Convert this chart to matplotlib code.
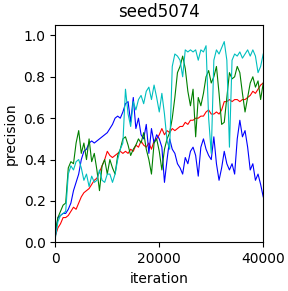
import numpy as np
import matplotlib
matplotlib.use("Agg")
import matplotlib.pyplot as plt

# 迭代步数（每 500 次一个点）
iterations = np.arange(0, 40001, 500)

# 四条 precision 曲线
prec_red = [0.03, 0.07, 0.09, 0.12, 0.12, 0.13, 0.15, 0.17, 0.16, 0.19,
            0.22, 0.24, 0.25, 0.26, 0.28, 0.30, 0.31, 0.34, 0.37, 0.40,
            0.44, 0.42, 0.41, 0.42, 0.43, 0.44, 0.43, 0.44, 0.43, 0.45,
            0.44, 0.47, 0.46, 0.49, 0.47, 0.46, 0.48, 0.45, 0.49, 0.50,
            0.52, 0.55, 0.52, 0.54, 0.53, 0.55, 0.54, 0.55, 0.56, 0.56,
            0.58, 0.57, 0.59, 0.59, 0.60, 0.60, 0.61, 0.61, 0.63, 0.64,
            0.62, 0.62, 0.63, 0.62, 0.64, 0.68, 0.68, 0.69, 0.68, 0.69,
            0.69, 0.68, 0.69, 0.69, 0.70, 0.71, 0.73, 0.72, 0.74, 0.76,
            0.77]

prec_blue = [0.03, 0.12, 0.13, 0.14, 0.14, 0.16, 0.19, 0.25, 0.29, 0.33,
             0.40, 0.44, 0.45, 0.48, 0.49, 0.48, 0.49, 0.50, 0.51, 0.52,
             0.53, 0.55, 0.57, 0.60, 0.61, 0.60, 0.63, 0.67, 0.68, 0.58,
             0.70, 0.55, 0.60, 0.52, 0.50, 0.57, 0.43, 0.55, 0.48, 0.52,
             0.50, 0.46, 0.29, 0.40, 0.50, 0.45, 0.43, 0.38, 0.36, 0.33,
             0.41, 0.38, 0.44, 0.46, 0.42, 0.32, 0.46, 0.50, 0.45, 0.42,
             0.40, 0.51, 0.38, 0.30, 0.36, 0.44, 0.38, 0.35, 0.38, 0.33,
             0.50, 0.59, 0.51, 0.54, 0.46, 0.35, 0.38, 0.30, 0.33, 0.28,
             0.22]

prec_green = [0.05, 0.12, 0.15, 0.18, 0.19, 0.36, 0.39, 0.38, 0.48, 0.54,
              0.43, 0.48, 0.40, 0.50, 0.39, 0.43, 0.35, 0.25, 0.37, 0.40,
              0.33, 0.40, 0.36, 0.33, 0.42, 0.45, 0.50, 0.51, 0.47, 0.42,
              0.45, 0.47, 0.50, 0.48, 0.53, 0.45, 0.40, 0.33, 0.48, 0.50,
              0.44, 0.35, 0.45, 0.50, 0.53, 0.60, 0.70, 0.82, 0.85, 0.90,
              0.84, 0.73, 0.66, 0.74, 0.51, 0.70, 0.66, 0.72, 0.80, 0.83,
              0.77, 0.80, 0.85, 0.72, 0.57, 0.58, 0.70, 0.82, 0.79, 0.80,
              0.85, 0.82, 0.72, 0.63, 0.70, 0.77, 0.80, 0.75, 0.78, 0.69,
              0.77]

prec_cyan = [0.02, 0.10, 0.13, 0.14, 0.15, 0.33, 0.37, 0.35, 0.39, 0.40,
             0.36, 0.30, 0.33, 0.27, 0.32, 0.29, 0.30, 0.35, 0.30, 0.29,
             0.33, 0.33, 0.29, 0.33, 0.40, 0.45, 0.48, 0.74, 0.62, 0.56,
             0.68, 0.64, 0.69, 0.71, 0.67, 0.73, 0.75, 0.69, 0.76, 0.70,
             0.63, 0.72, 0.62, 0.49, 0.45, 0.85, 0.91, 0.90, 0.88, 0.80,
             0.93, 0.92, 0.93, 0.92, 0.93, 0.88, 0.93, 0.92, 0.95, 0.60,
             0.43, 0.88, 0.93, 0.91, 0.94, 0.97, 0.88, 0.46, 0.88, 0.91,
             0.90, 0.92, 0.89, 0.91, 0.93, 0.90, 0.93, 0.90, 0.82, 0.85,
             0.91]

fig = plt.figure(figsize=(2.88, 2.91), dpi=100)
ax = fig.add_axes([0.192, 0.167, 0.722, 0.747])

ax.plot(iterations, prec_red, color="r", linewidth=0.8)
ax.plot(iterations, prec_blue, color="b", linewidth=0.8)
ax.plot(iterations, prec_green, color="g", linewidth=0.8)
ax.plot(iterations, prec_cyan, color="c", linewidth=0.8)

ax.set_xlim(0, 40000)
ax.set_ylim(0, 1.05)
ax.set_xticks([0, 20000, 40000])
ax.set_yticks([0.0, 0.2, 0.4, 0.6, 0.8, 1.0])
ax.set_title("seed5074")
ax.set_xlabel("iteration")
ax.set_ylabel("precision")

plt.savefig("out.png", dpi=100)
